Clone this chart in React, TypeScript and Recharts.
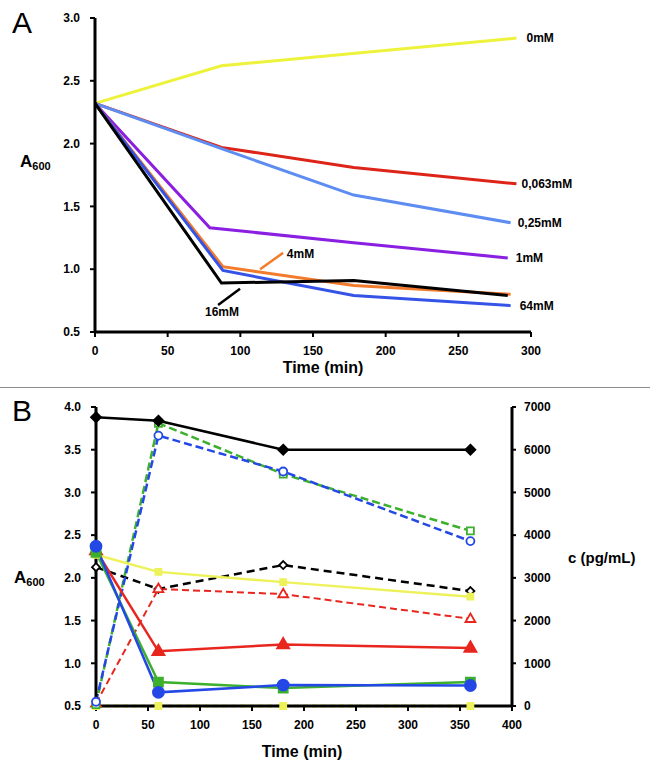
import React from "react";
import { Line, LineChart, ReferenceDot, ReferenceLine, XAxis, YAxis } from "recharts";

const font = "'Liberation Sans', Arial, Helvetica, sans-serif";

// ---- panel A: A600 over time, one series per concentration
const timesA_0 = [0, 87, 290];
const a600_0 = [2.32, 2.62, 2.84];
const timesA_063 = [0, 87, 178, 290];
const a600_063 = [2.32, 1.97, 1.81, 1.68];
const timesA_025 = [0, 87, 178, 286];
const a600_025 = [2.32, 1.96, 1.59, 1.37];
const timesA_1 = [0, 79, 178, 284];
const a600_1 = [2.32, 1.33, 1.21, 1.09];
const timesA_4 = [0, 88, 178, 286];
const a600_4 = [2.32, 1.02, 0.87, 0.8];
const timesA_16 = [0, 87, 178, 284];
const a600_16 = [2.32, 0.89, 0.91, 0.79];
const timesA_64 = [0, 88, 178, 286];
const a600_64 = [2.32, 0.99, 0.79, 0.71];

const ticksA_x = [0, 50, 100, 150, 200, 250, 300];
const ticksA_y = [0.5, 1, 1.5, 2, 2.5, 3];

// ---- panel B: A600 (left) and c in pg/mL (right)
const timesB = [0, 60, 180, 360];
const blackSolid = [3.88, 3.84, 3.5, 3.5];
const yellowSolid = [2.27, 2.07, 1.95, 1.78];
const redSolid = [2.32, 1.14, 1.22, 1.18];
const greenSolid = [2.3, 0.78, 0.71, 0.78];
const blueSolid = [2.37, 0.66, 0.745, 0.74];
const greenDashed = [30, 6620, 5430, 4100];
const blueDashed = [100, 6330, 5490, 3860];
const redDashed = [60, 2740, 2620, 2040];
const blackDashed = [3250, 2740, 3300, 2690];
const yellowDashed = [0, 0, 0, 0];

const ticksB_x = [0, 50, 100, 150, 200, 250, 300, 350, 400];
const ticksB_left = [0.5, 1, 1.5, 2, 2.5, 3, 3.5, 4];
const ticksB_right = [0, 1000, 2000, 3000, 4000, 5000, 6000, 7000];

const zip = (ts: number[], vs: number[]) => ts.map((x, i) => ({ x, y: vs[i] }));

const seriesA = [
  { key: "0mM", data: zip(timesA_0, a600_0), color: "#EDF23A", label: true, dx: 10 },
  { key: "0,063mM", data: zip(timesA_063, a600_063), color: "#DD2419", label: true, dx: 5 },
  { key: "0,25mM", data: zip(timesA_025, a600_025), color: "#5E8DF2", label: true, dx: 7 },
  { key: "1mM", data: zip(timesA_1, a600_1), color: "#8A1FE2", label: true, dx: 8 },
  { key: "4mM", data: zip(timesA_4, a600_4), color: "#F27B2C", label: false, dx: 0 },
  { key: "64mM", data: zip(timesA_64, a600_64), color: "#3553E6", label: true, dx: 9 },
  { key: "16mM", data: zip(timesA_16, a600_16), color: "#000000", label: false, dx: 0 },
];

const rowsB = timesB.map((t, i) => ({
  t,
  blackSolid: blackSolid[i],
  yellowSolid: yellowSolid[i],
  redSolid: redSolid[i],
  greenSolid: greenSolid[i],
  blueSolid: blueSolid[i],
  greenDashed: greenDashed[i],
  blueDashed: blueDashed[i],
  redDashed: redDashed[i],
  blackDashed: blackDashed[i],
  yellowDashed: yellowDashed[i],
}));

const tickStyle = { fill: "#000", fontSize: 12, fontWeight: "bold", fontFamily: font };
const axisLine = { stroke: "#000", strokeWidth: 3 };
const tickLine = { stroke: "#000", strokeWidth: 2 };

function marker(shape: string, size: number, fill: string, stroke: string) {
  return (p: any) => {
    const { cx, cy, index } = p;
    if (cx == null || cy == null) return <g key={index} />;
    const s = size;
    if (shape === "circle") return <circle key={index} cx={cx} cy={cy} r={s} fill={fill} stroke={stroke} strokeWidth={1.8} />;
    let d = "";
    if (shape === "diamond") d = `M${cx},${cy - s}L${cx + s},${cy}L${cx},${cy + s}L${cx - s},${cy}Z`;
    if (shape === "square") d = `M${cx - s},${cy - s}h${2 * s}v${2 * s}h${-2 * s}Z`;
    if (shape === "triangle") d = `M${cx},${cy - s * 1.2}L${cx + s * 1.1},${cy + s * 0.7}L${cx - s * 1.1},${cy + s * 0.7}Z`;
    return <path key={index} d={d} fill={fill} stroke={stroke} strokeWidth={1.8} />;
  };
}

const boldText = { fontFamily: font, fontWeight: "bold", fill: "#000" } as const;

function A600Label({ viewBox, dy }: any) {
  return (
    <text x={viewBox.x + 10 - (dy > 0 ? 6 : 0)} y={viewBox.y + viewBox.height / 2 + dy} {...boldText} fontSize={17}>
      A<tspan fontSize={11} dy={3}>600</tspan>
    </text>
  );
}

function ChartA() {
  return (
    <LineChart width={650} height={385} margin={{ top: 18, right: 119, bottom: 23, left: 10 }}>
      <XAxis
        type="number"
        dataKey="x"
        domain={[0, 300]}
        ticks={ticksA_x}
        tick={tickStyle}
        axisLine={axisLine}
        tickLine={tickLine}
        tickSize={5}
        tickMargin={9}
        height={30}
        label={{ content: (p: any) => <text x={p.viewBox.x + p.viewBox.width / 2 + 10} y={p.viewBox.y + 41} textAnchor="middle" {...boldText} fontSize={16}>Time (min)</text> }}
      />
      <YAxis
        type="number"
        domain={[0.5, 3]}
        ticks={ticksA_y}
        tickFormatter={(v: number) => v.toFixed(1)}
        tick={tickStyle}
        axisLine={axisLine}
        tickLine={tickLine}
        tickSize={5}
        tickMargin={10}
        width={85}
        label={{ content: (p: any) => <A600Label viewBox={p.viewBox} dy={-8} /> }}
      />
      {seriesA.map((s) => (
        <Line
          key={s.key}
          data={s.data}
          dataKey="y"
          stroke={s.color}
          strokeWidth={3}
          isAnimationActive={false}
          dot={(p: any) =>
            s.label && p.index === s.data.length - 1 ? (
              <text key="end" x={p.cx + s.dx} y={p.cy + 4} {...boldText} fontSize={12}>{s.key}</text>
            ) : (
              <g key={p.index} />
            )
          }
          activeDot={false}
        />
      ))}
      <ReferenceLine segment={[{ x: 113.6, y: 1.0 }, { x: 129.4, y: 1.13 }]} stroke="#F27B2C" strokeWidth={2.5} />
      <ReferenceLine segment={[{ x: 84.7, y: 0.715 }, { x: 99.8, y: 0.845 }]} stroke="#000" strokeWidth={2.5} />
      <ReferenceDot x={132} y={1.12} r={0} shape={(p: any) => <text x={p.cx} y={p.cy + 4} {...boldText} fontSize={12}>4mM</text>} />
      <ReferenceDot x={87.4} y={0.66} r={0} shape={(p: any) => <text x={p.cx} y={p.cy + 4} textAnchor="middle" {...boldText} fontSize={12}>16mM</text>} />
    </LineChart>
  );
}

function ChartB() {
  return (
    <LineChart width={650} height={385} data={rowsB} margin={{ top: 17, right: 78, bottom: 39, left: 10 }}>
      <XAxis
        type="number"
        dataKey="t"
        domain={[0, 400]}
        ticks={ticksB_x}
        tick={tickStyle}
        axisLine={axisLine}
        tickLine={tickLine}
        tickSize={5}
        tickMargin={9}
        height={30}
        label={{ content: (p: any) => <text x={p.viewBox.x + p.viewBox.width / 2 - 2} y={p.viewBox.y + 51} textAnchor="middle" {...boldText} fontSize={16}>Time (min)</text> }}
      />
      <YAxis
        yAxisId="left"
        type="number"
        domain={[0.5, 4]}
        ticks={ticksB_left}
        tickFormatter={(v: number) => v.toFixed(1)}
        tick={tickStyle}
        axisLine={axisLine}
        tickLine={tickLine}
        tickSize={5}
        tickMargin={10}
        width={86}
        label={{ content: (p: any) => <A600Label viewBox={p.viewBox} dy={26} /> }}
      />
      <YAxis
        yAxisId="right"
        orientation="right"
        type="number"
        domain={[0, 7000]}
        ticks={ticksB_right}
        tick={tickStyle}
        axisLine={axisLine}
        tickLine={tickLine}
        tickSize={4}
        tickMargin={8}
        width={60}
        label={{ content: (p: any) => <text x={p.viewBox.x + 56} y={p.viewBox.y + p.viewBox.height / 2 + 6} {...boldText} fontSize={15}>c (pg/mL)</text> }}
      />
      <Line yAxisId="right" dataKey="yellowDashed" stroke="#EEF25A" strokeWidth={3} strokeDasharray="5 4" isAnimationActive={false} dot={marker("square", 3, "#EEF25A", "#EEF25A")} activeDot={false} />
      <Line yAxisId="right" dataKey="blackDashed" stroke="#000" strokeWidth={2.5} strokeDasharray="8 5" isAnimationActive={false} dot={marker("diamond", 4, "#fff", "#000")} activeDot={false} />
      <Line yAxisId="right" dataKey="redDashed" stroke="#E8261E" strokeWidth={2} strokeDasharray="7 4" isAnimationActive={false} dot={marker("triangle", 4.5, "#fff", "#E8261E")} activeDot={false} />
      <Line yAxisId="right" dataKey="greenDashed" stroke="#3CB02C" strokeWidth={2.5} strokeDasharray="8 4" isAnimationActive={false} dot={marker("square", 3.5, "#fff", "#3CB02C")} activeDot={false} />
      <Line yAxisId="right" dataKey="blueDashed" stroke="#2448E6" strokeWidth={2.5} strokeDasharray="8 4" isAnimationActive={false} dot={marker("circle", 4, "#fff", "#2448E6")} activeDot={false} />
      <Line yAxisId="left" dataKey="yellowSolid" stroke="#EEF25A" strokeWidth={2.5} isAnimationActive={false} dot={marker("square", 3, "#EEF25A", "#EEF25A")} activeDot={false} />
      <Line yAxisId="left" dataKey="blackSolid" stroke="#000" strokeWidth={2.5} isAnimationActive={false} dot={marker("diamond", 5, "#000", "#000")} activeDot={false} />
      <Line yAxisId="left" dataKey="redSolid" stroke="#E8261E" strokeWidth={2.5} isAnimationActive={false} dot={marker("triangle", 5.5, "#E8261E", "#E8261E")} activeDot={false} />
      <Line yAxisId="left" dataKey="greenSolid" stroke="#3CB02C" strokeWidth={2.5} isAnimationActive={false} dot={marker("square", 4.5, "#3CB02C", "#3CB02C")} activeDot={false} />
      <Line yAxisId="left" dataKey="blueSolid" stroke="#2448E6" strokeWidth={2.5} isAnimationActive={false} dot={marker("circle", 5.5, "#2448E6", "#2448E6")} activeDot={false} />
    </LineChart>
  );
}

export default function App() {
  return (
    <div style={{ position: "absolute", left: 0, top: 0, width: 650, height: 775, background: "#fff", fontFamily: font }}>
      <div style={{ position: "absolute", left: 0, top: 0 }}>
        <ChartA />
      </div>
      <div style={{ position: "absolute", left: 0, top: 387, width: 650, height: 1, background: "#8c8c8c" }} />
      <div style={{ position: "absolute", left: 0, top: 390 }}>
        <ChartB />
      </div>
      <div style={{ position: "absolute", left: 12, top: 5, fontSize: 30, lineHeight: "36px" }}>A</div>
      <div style={{ position: "absolute", left: 12, top: 393, fontSize: 30, lineHeight: "36px" }}>B</div>
    </div>
  );
}
